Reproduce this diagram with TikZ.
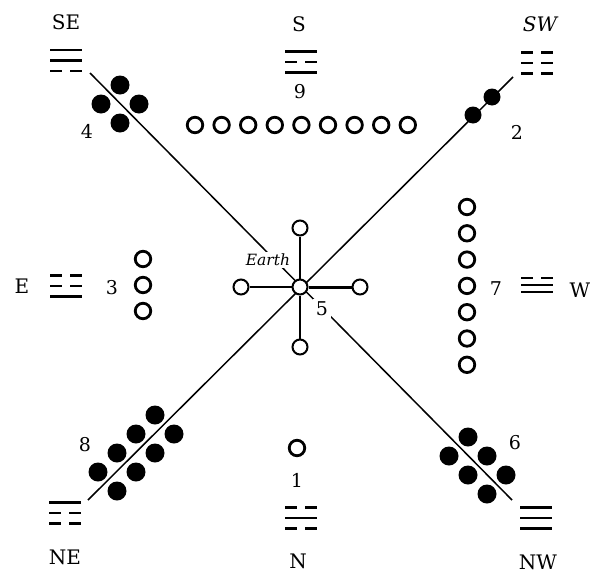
\documentclass[tikz,border=0pt]{standalone}
\usepackage{fontspec}
\setmainfont{DejaVu Serif}
\usetikzlibrary{positioning}

% one stroke of a trigram: 1 = whole, 0 = broken
\newcommand\yao[2]{%
  \ifnum#2=1
    \draw[yaoline] (-16,#1) -- (16,#1);
  \else
    \draw[yaoline] (-16,#1) -- (-4,#1) (4,#1) -- (16,#1);
  \fi}
% trigram centred at #2, strokes #3 #4 #5 from top to bottom, #1 = gap
\newcommand\trigram[5][10.5]{%
  \begin{scope}[shift={#2}]
    \yao{-#1}{#3}\yao{0}{#4}\yao{#1}{#5}
  \end{scope}}

\begin{document}
\begin{tikzpicture}[x=1pt, y=-1pt, font=\fontsize{20}{23}\selectfont]
  \tikzset{
    yaoline/.style={line width=2.8pt},
    hollow/.style={circle, draw, fill=white, line width=2.8pt, minimum size=15.5pt, inner sep=0pt},
    earthnode/.style={hollow, line width=2pt, minimum size=15pt},
    blackdot/.style={circle, fill=black, minimum size=19pt, inner sep=0pt},
    axis/.style={line width=1.5pt},
    spoke/.style={line width=2.2pt},
    lbl/.style={inner sep=1pt},
    num/.style={lbl, font=\fontsize{19}{22}\selectfont}
  }
  \useasboundingbox (0,0) rectangle (595,576);

  % the two diagonals
  \coordinate (seEnd) at (90,73);
  \coordinate (nwEnd) at (512,500);
  \coordinate (swEnd) at (513,77);
  \coordinate (neEnd) at (88,500);
  \draw[axis] (seEnd) -- (nwEnd);
  \draw[axis] (swEnd) -- (neEnd);

  % earth in the middle
  \node[earthnode] (earth) at (300,287) {};
  \node[earthnode] (eUp) at (300,228) {};
  \node[earthnode] (eDown) at (300,347) {};
  \node[earthnode] (eLeft) at (241,287) {};
  \node[earthnode] (eRight) at (360,287) {};
  \foreach \n in {eUp,eDown,eLeft} \draw[spoke] (earth) -- (\n);
  \draw[spoke, line width=3pt] (earth) -- (eRight);
  \node[lbl, inner sep=2pt, fill=white, font=\fontsize{15.5}{18}\selectfont\itshape] (earthlbl) at (268,260) {Earth};
  \node[num, inner sep=3pt, fill=white] (five) at (322,309) {5};

  % black dots
  \foreach \i in {0,1} \foreach \j in {0,1}
    \node[blackdot] (se\i\j) at ({120+19*\i-19*\j},{85+19*\i+19*\j}) {};
  \foreach \i in {0,...,3} \foreach \j in {0,1}
    \node[blackdot] (ne\i\j) at ({155-19*\i+19*\j},{415+19*\i+19*\j}) {};
  \foreach \i in {0,1,2} \foreach \j in {0,1}
    \node[blackdot] (nw\i\j) at ({468+19*\i-19*\j},{437+19*\i+19*\j}) {};
  \foreach \i in {0,1}
    \node[blackdot, minimum size=17pt] (sw\i) at ({492-19*\i},{97+18*\i}) {};

  % white dots
  \foreach \k in {1,...,9}
    \node[hollow] (s\k) at ({195+26.6*(\k-1)},125) {};
  \foreach \k in {1,...,7}
    \node[hollow] (w\k) at (467,{207+26.3*(\k-1)}) {};
  \foreach \k in {1,2,3}
    \node[hollow] (e\k) at (143,{259+26*(\k-1)}) {};
  \node[hollow] (n1) at (297,448) {};

  % trigrams
  \trigram{(66,60.5)}{1}{1}{0}
  \trigram{(301,62)}{1}{0}{1}
  \trigram{(537,63)}{0}{0}{0}
  \trigram{(66,286)}{0}{0}{1}
  \trigram[7]{(537,285)}{0}{1}{1}
  \trigram{(65,513)}{1}{0}{0}
  \trigram{(301,518)}{0}{1}{0}
  \trigram{(536,518)}{1}{1}{1}

  % directions
  \node[lbl] (SE) at (66,22) {SE};
  \node[lbl] (S) at (299,24) {S};
  \node[lbl, font=\fontsize{20}{23}\selectfont\itshape] (SW) at (540,24) {SW};
  \node[lbl] (E) at (22,286) {E};
  \node[lbl] (W) at (580,290) {W};
  \node[lbl] (NE) at (65,557) {NE};
  \node[lbl] (N) at (298,561) {N};
  \node[lbl] (NW) at (538,562) {NW};

  % numbers
  \node[num] (nine) at (300,92) {9};
  \node[num] (two) at (517,132) {2};
  \node[num] (four) at (87,131) {4};
  \node[num] (three) at (112,288) {3};
  \node[num] (seven) at (496,289) {7};
  \node[num] (eight) at (85,445) {8};
  \node[num] (six) at (515,443) {6};
  \node[num] (one) at (297,480) {1};
\end{tikzpicture}
\end{document}
